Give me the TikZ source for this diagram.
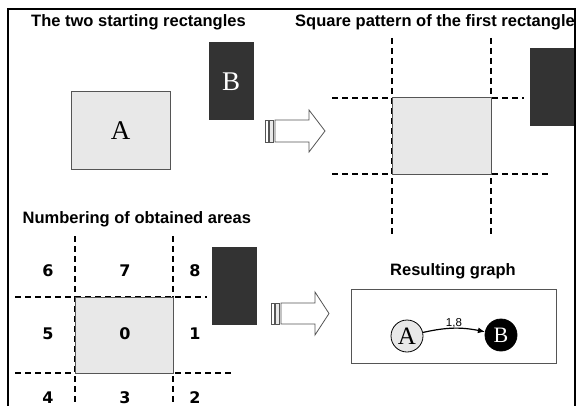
\documentclass[tikz,border=0pt]{standalone}
\usepackage{fontspec}
\setmainfont{Liberation Serif}
\newfontfamily\titlefont{Liberation Sans}
\newfontfamily\numfont{DejaVu Sans}
\usetikzlibrary{arrows.meta}
\definecolor{lightbox}{HTML}{E8E8E8}
\definecolor{darkbox}{HTML}{333333}
\definecolor{edgegray}{HTML}{555555}
\tikzset{
  titletext/.style={font=\titlefont\bfseries\fontsize{16.5}{19}\selectfont, inner sep=0pt, anchor=base west},
  numtext/.style={font=\numfont\bfseries\fontsize{16}{18}\selectfont, inner sep=0pt},
  lightrect/.style={draw=edgegray, fill=lightbox, line width=1pt},
  darkrect/.style={draw=black!80, fill=darkbox, line width=0.8pt},
  grid line/.style={dash pattern=on 6pt off 4pt, line width=1.6pt},
  fat arrow/.style={draw=edgegray, fill=white, line width=0.8pt},
  graph node/.style={circle, draw=black, line width=0.8pt, minimum size=32pt, inner sep=0pt},
}
\begin{document}
\begin{tikzpicture}[x=1pt,y=-1pt]
\useasboundingbox (0,0) rectangle (577,406);
\clip (0,0) rectangle (577,406);
% frame
\draw[line width=2pt] (8,406) -- (8,9) -- (575,9) -- (575,406);

% ---------- panel 1 ----------
\node[titletext] (t1) at (31,27) {The two starting rectangles};
\draw[lightrect] (71,92) rectangle (170,169);
\node[font=\fontsize{27}{29}\selectfont] (la) at (120.5,130.5) {A};
\draw[darkrect] (209,42) rectangle (253,119);
\node[font=\fontsize{27}{29}\selectfont, text=white] (lb) at (231,82) {B};

% arrow 1
\draw[fat arrow] (265,120) rectangle (268,142);
\draw[fat arrow, fill=lightbox] (269.5,120) rectangle (273,142);
\draw[fat arrow] (275,120) -- (309,120) -- (309,110) -- (325,131) -- (309,152) -- (309,142) -- (275,142) -- cycle;

% ---------- panel 2 ----------
\node[titletext] (t2) at (295,27) {Square pattern of the first rectangle};
\draw[grid line] (392,38) -- (392,234);
\draw[grid line] (491,38) -- (491,234);
\draw[grid line] (332,98) -- (524,98);
\draw[grid line] (332,174) -- (550,174);
\draw[lightrect] (392,98) rectangle (491,174);
\draw[darkrect] (530,48) rectangle (573,125);

% ---------- panel 3 ----------
\node[titletext] (t3) at (22.5,223.5) {Numbering of obtained areas};
\draw[grid line] (75,236) -- (75,410);
\draw[grid line] (173,236) -- (173,410);
\draw[grid line] (15,297) -- (207,297);
\draw[grid line] (15,373) -- (232,373);
\draw[lightrect] (75,297) rectangle (173,373);
\draw[darkrect] (212,247) rectangle (256,324);
\node[numtext] (n6) at (48,271) {6};
\node[numtext] (n7) at (125,271) {7};
\node[numtext] (n8) at (195,271) {8};
\node[numtext] (n5) at (48,334) {5};
\node[numtext] (n0) at (125,334) {0};
\node[numtext] (n1) at (195,334) {1};
\node[numtext] (n4) at (48,397.5) {4};
\node[numtext] (n3) at (125,397.5) {3};
\node[numtext] (n2) at (195,397.5) {2};

% arrow 2
\draw[fat arrow] (271,303) rectangle (274,324);
\draw[fat arrow, fill=lightbox] (275.5,303) rectangle (279,324);
\draw[fat arrow] (281,303) -- (315,303) -- (315,292) -- (329,313.5) -- (315,335) -- (315,324) -- (281,324) -- cycle;

% ---------- panel 4 ----------
\node[titletext] (t4) at (390,275) {Resulting graph};
\draw[draw=edgegray, line width=1pt] (351,289) rectangle (556,363);
\node[graph node, fill=lightbox, font=\fontsize{25}{27}\selectfont] (ga) at (407,336) {A};
\node[graph node, fill=black, text=white, font=\fontsize{22}{24}\selectfont] (gb) at (501,335) {B};
\draw[line width=1.2pt, -{Latex[length=7pt,width=6pt]}] (ga) to[bend left=12] node[above=-1pt, font=\titlefont\fontsize{11.5}{13}\selectfont, inner sep=1pt] (lab) {1,8} (gb);
\end{tikzpicture}
\end{document}
